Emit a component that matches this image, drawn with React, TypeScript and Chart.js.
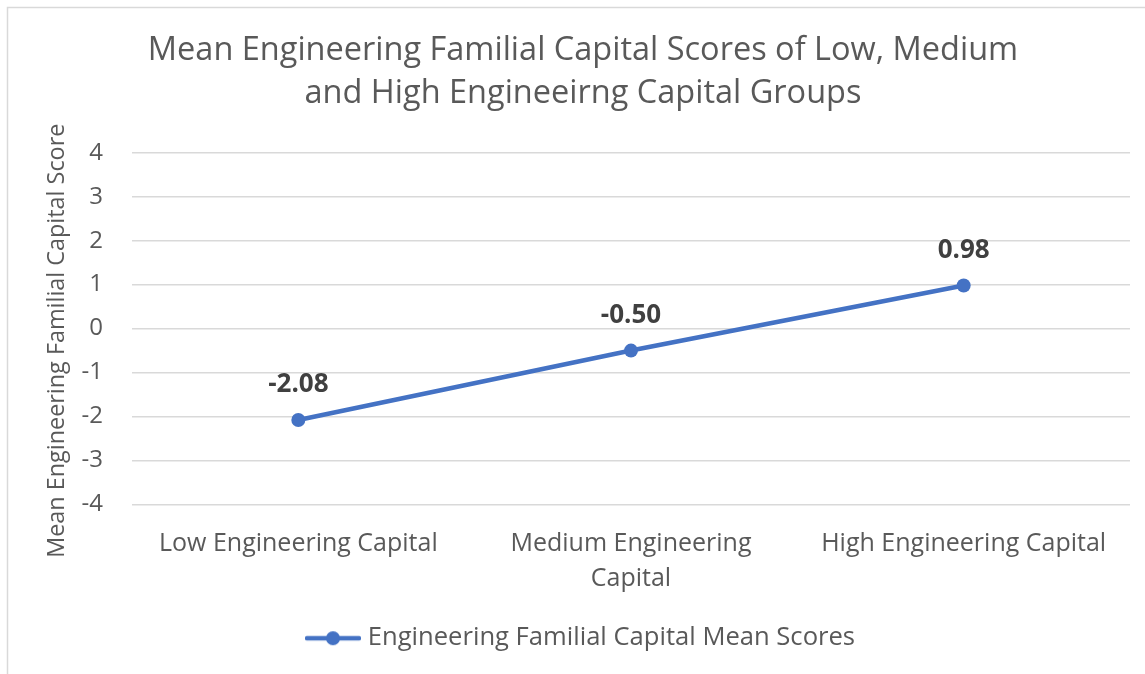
import React, { useEffect, useRef } from "react";
import { Chart, registerables } from "chart.js";

Chart.register(...registerables);

const titleLines = [
  "Mean Engineering Familial Capital Scores of Low, Medium",
  "and High Engineeirng Capital Groups",
];
const categories: (string | string[])[] = [
  "Low Engineering Capital",
  ["Medium Engineering", "Capital"],
  "High Engineering Capital",
];
const meanScores = [-2.08, -0.5, 0.98];
const seriesName = "Engineering Familial Capital Mean Scores";
const yAxisTitle = "Mean Engineering Familial Capital Score";
const yMin = -4;
const yMax = 4;

const FONT = "'Open Sans'";
const BLUE = "#4472C4";
const TEXT = "#595959";

// Legend marker: a short line with a round marker in its middle.
function makeLegendMarker(): HTMLCanvasElement {
  const c = document.createElement("canvas");
  c.width = 56;
  c.height = 16;
  const ctx = c.getContext("2d")!;
  ctx.strokeStyle = BLUE;
  ctx.lineWidth = 4.5;
  ctx.lineCap = "round";
  ctx.beginPath();
  ctx.moveTo(2, 8);
  ctx.lineTo(54, 8);
  ctx.stroke();
  ctx.fillStyle = BLUE;
  ctx.beginPath();
  ctx.arc(28, 8, 7, 0, Math.PI * 2);
  ctx.fill();
  return c;
}

// Light frame around the chart area.
const framePlugin = {
  id: "frame",
  beforeDraw(chart: any) {
    const { ctx, width, height } = chart;
    ctx.save();
    ctx.fillStyle = "#ffffff";
    ctx.fillRect(0, 0, width, height);
    ctx.strokeStyle = "#d9d9d9";
    ctx.lineWidth = 1.5;
    ctx.strokeRect(7.5, 7.5, width + 20, height + 20);
    ctx.restore();
  },
};

// Value labels written above each point.
const valueLabelPlugin = {
  id: "valueLabels",
  afterDatasetsDraw(chart: any) {
    const { ctx } = chart;
    const meta = chart.getDatasetMeta(0);
    const data = chart.data.datasets[0].data as number[];
    ctx.save();
    ctx.font = `bold 26px ${FONT}`;
    ctx.fillStyle = "#404040";
    ctx.textAlign = "center";
    ctx.textBaseline = "middle";
    meta.data.forEach((pt: any, i: number) => {
      ctx.fillText(data[i].toFixed(2), pt.x, pt.y - 35);
    });
    ctx.restore();
  },
};

export default function App() {
  const ref = useRef<HTMLCanvasElement>(null);

  useEffect(() => {
    document.body.style.margin = "0";
    const chart = new Chart(ref.current!, {
      type: "line",
      data: {
        labels: categories,
        datasets: [
          {
            label: seriesName,
            data: meanScores,
            borderColor: BLUE,
            backgroundColor: BLUE,
            borderWidth: 4.5,
            pointRadius: 7,
            pointHoverRadius: 7,
            pointBackgroundColor: BLUE,
            pointBorderWidth: 0,
            tension: 0,
          },
        ],
      },
      options: {
        animation: false,
        responsive: false,
        layout: { padding: { left: 36, right: 15, top: 8, bottom: 13 } },
        plugins: {
          title: {
            display: true,
            text: titleLines,
            color: TEXT,
            font: { family: FONT, size: 32.5, weight: "normal", lineHeight: 1.32 },
            padding: { top: 21, bottom: 38 },
          },
          legend: {
            position: "bottom",
            labels: {
              usePointStyle: true,
              pointStyle: makeLegendMarker() as any,
              pointStyleWidth: 44,
              color: TEXT,
              font: { family: FONT, size: 25.6 },
              padding: 12,
            },
          },
          tooltip: { enabled: false },
        },
        scales: {
          x: {
            offset: true,
            grid: { display: false },
            border: { display: false },
            ticks: {
              color: TEXT,
              font: { family: FONT, size: 25, lineHeight: 1.4 },
              padding: 14,
              maxRotation: 0,
              autoSkip: false,
            },
            afterFit(scale: any) {
              scale.height = 109;
            },
          },
          y: {
            min: yMin,
            max: yMax,
            grid: { color: "#d9d9d9", lineWidth: 1.5, drawTicks: false },
            border: { display: false },
            ticks: {
              stepSize: 1,
              color: TEXT,
              font: { family: FONT, size: 24 },
              padding: 29,
            },
            title: {
              display: true,
              // trailing spaces nudge the rotated title a little lower
              text: yAxisTitle + "    ",
              color: TEXT,
              font: { family: FONT, size: 23.4 },
              padding: { top: 7, bottom: 0 },
            },
            afterFit(scale: any) {
              scale.width = 96;
            },
          },
        },
      },
      plugins: [framePlugin, valueLabelPlugin],
    });
    return () => chart.destroy();
  }, []);

  return <canvas ref={ref} width={1145} height={674} style={{ display: "block" }} />;
}
